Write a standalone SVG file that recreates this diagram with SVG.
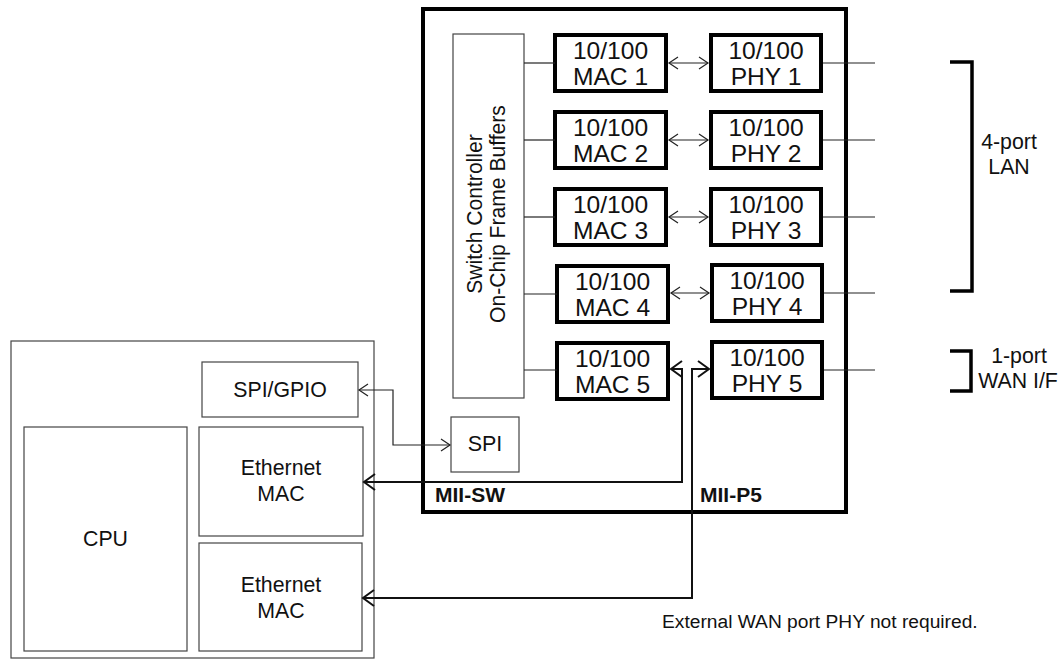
<svg xmlns="http://www.w3.org/2000/svg" width="1062" height="664" viewBox="0 0 1062 664">
<style>
text{font-family:"Liberation Sans",Arial,sans-serif;fill:#111;}
.big{font-size:23px;text-anchor:middle;}
.mid{font-size:21.3px;text-anchor:middle;}
.lbl{font-size:21px;font-weight:bold;}
.note{font-size:19.2px;}
.thick{fill:#fff;stroke:#000;stroke-width:4;}
.thin{fill:#fff;stroke:#444;stroke-width:1.2;}
.ln{fill:none;stroke:#222;stroke-width:1.2;}
.lnb{fill:none;stroke:#111;stroke-width:2;}
.brk{fill:none;stroke:#000;stroke-width:3.5;}
</style>
<defs>
<marker id="ah" markerUnits="userSpaceOnUse" orient="auto-start-reverse" overflow="visible" markerWidth="1" markerHeight="1">
<path d="M-9,-6 L0,0 L-9,6" fill="none" stroke="#222" stroke-width="1.2"/>
</marker>
<marker id="ahb" markerUnits="userSpaceOnUse" orient="auto-start-reverse" overflow="visible" markerWidth="1" markerHeight="1">
<path d="M-11,-8 L0,0 L-11,8" fill="none" stroke="#111" stroke-width="2"/>
</marker>
</defs>
<rect width="1062" height="664" fill="#fff"/>

<g id="chip"><rect class="thick" x="423" y="9" width="423" height="503" fill="none"/></g>

<g id="host"><rect class="thin" x="11" y="341" width="363" height="317"/></g>

<g id="switch-controller">
<rect class="thin" x="453" y="34" width="71" height="364"/>
<text class="mid" style="font-size:20.5px" transform="translate(482,214) rotate(-90) scale(1.03,1.08)"><tspan x="0" y="0">Switch Controller</tspan><tspan x="0" y="21.3">On-Chip Frame Buffers</tspan></text>
</g>

<g id="mac1"><rect class="thick" x="555" y="35" width="111" height="56"/><text class="big" transform="translate(610.5,0) scale(1.07,1)"><tspan x="0" y="59">10/100</tspan><tspan x="0" y="85">MAC 1</tspan></text></g>
<g id="mac2"><rect class="thick" x="555" y="112" width="111" height="56"/><text class="big" transform="translate(610.5,0) scale(1.07,1)"><tspan x="0" y="136">10/100</tspan><tspan x="0" y="162">MAC 2</tspan></text></g>
<g id="mac3"><rect class="thick" x="555" y="189" width="111" height="56"/><text class="big" transform="translate(610.5,0) scale(1.07,1)"><tspan x="0" y="213">10/100</tspan><tspan x="0" y="239">MAC 3</tspan></text></g>
<g id="mac4"><rect class="thick" x="557" y="266" width="111" height="56"/><text class="big" transform="translate(612.5,0) scale(1.07,1)"><tspan x="0" y="290">10/100</tspan><tspan x="0" y="316">MAC 4</tspan></text></g>
<g id="mac5"><rect class="thick" x="557" y="343" width="111" height="56"/><text class="big" transform="translate(612.5,0) scale(1.07,1)"><tspan x="0" y="367">10/100</tspan><tspan x="0" y="393">MAC 5</tspan></text></g>

<g id="phy1"><rect class="thick" x="711" y="35" width="110" height="56"/><text class="big" transform="translate(766,0) scale(1.07,1)"><tspan x="0" y="59">10/100</tspan><tspan x="0" y="85">PHY 1</tspan></text></g>
<g id="phy2"><rect class="thick" x="711" y="112" width="110" height="56"/><text class="big" transform="translate(766,0) scale(1.07,1)"><tspan x="0" y="136">10/100</tspan><tspan x="0" y="162">PHY 2</tspan></text></g>
<g id="phy3"><rect class="thick" x="711" y="189" width="110" height="56"/><text class="big" transform="translate(766,0) scale(1.07,1)"><tspan x="0" y="213">10/100</tspan><tspan x="0" y="239">PHY 3</tspan></text></g>
<g id="phy4"><rect class="thick" x="712" y="265" width="110" height="56"/><text class="big" transform="translate(767,0) scale(1.07,1)"><tspan x="0" y="289">10/100</tspan><tspan x="0" y="315">PHY 4</tspan></text></g>
<g id="phy5"><rect class="thick" x="712" y="342" width="110" height="56"/><text class="big" transform="translate(767,0) scale(1.07,1)"><tspan x="0" y="366">10/100</tspan><tspan x="0" y="392">PHY 5</tspan></text></g>

<g id="spi"><rect class="thin" x="451" y="417" width="68" height="55"/><text class="mid" style="font-size:21.5px" x="485" y="451">SPI</text></g>
<g id="spi-gpio"><rect class="thin" x="202" y="362" width="156" height="55"/><text class="mid" x="280" y="397">SPI/GPIO</text></g>
<g id="cpu"><rect class="thin" x="24" y="427" width="163" height="224"/><text class="mid" x="105.5" y="546">CPU</text></g>
<g id="eth-mac1"><rect class="thin" x="199" y="427" width="164" height="109"/><text class="mid"><tspan x="281" y="475">Ethernet</tspan><tspan x="281" y="501">MAC</tspan></text></g>
<g id="eth-mac2"><rect class="thin" x="199" y="543" width="163" height="108"/><text class="mid"><tspan x="281" y="592">Ethernet</tspan><tspan x="281" y="618">MAC</tspan></text></g>

<g id="connectors">
<path class="ln" d="M524,63 H555"/>
<path class="ln" d="M524,140 H555"/>
<path class="ln" d="M524,217 H555"/>
<path class="ln" d="M524,294 H557"/>
<path class="ln" d="M524,370 H557"/>
<path class="ln" d="M669,63 H708" marker-start="url(#ah)" marker-end="url(#ah)"/>
<path class="ln" d="M669,140 H708" marker-start="url(#ah)" marker-end="url(#ah)"/>
<path class="ln" d="M669,217 H708" marker-start="url(#ah)" marker-end="url(#ah)"/>
<path class="ln" d="M671,293 H709" marker-start="url(#ah)" marker-end="url(#ah)"/>
<path class="ln" d="M823,63 H875"/>
<path class="ln" d="M823,140 H875"/>
<path class="ln" d="M823,217 H875"/>
<path class="ln" d="M824,293 H875"/>
<path class="ln" d="M824,370 H875"/>
<path class="ln" d="M359,390 H393 V445 H450" marker-start="url(#ah)" marker-end="url(#ah)"/>
<path class="lnb" d="M671,369 H682 V482 H364" marker-start="url(#ahb)" marker-end="url(#ahb)"/>
<path class="lnb" d="M709,369 H692 V598 H363" marker-start="url(#ahb)" marker-end="url(#ahb)"/>
</g>

<g id="lan-bracket"><path class="brk" d="M950,62 H972 V291 H950"/><text class="mid"><tspan x="1009" y="149">4-port</tspan><tspan x="1009" y="174">LAN</tspan></text></g>
<g id="wan-bracket"><path class="brk" d="M950,351 H971 V391 H950"/><text class="mid"><tspan x="1019" y="363">1-port</tspan><tspan x="1018" y="388">WAN I/F</tspan></text></g>

<g id="labels">
<text class="lbl" x="435" y="502">MII-SW</text>
<text class="lbl" x="700" y="502">MII-P5</text>
<text class="note" x="662" y="628">External WAN port PHY not required.</text>
</g>
</svg>
